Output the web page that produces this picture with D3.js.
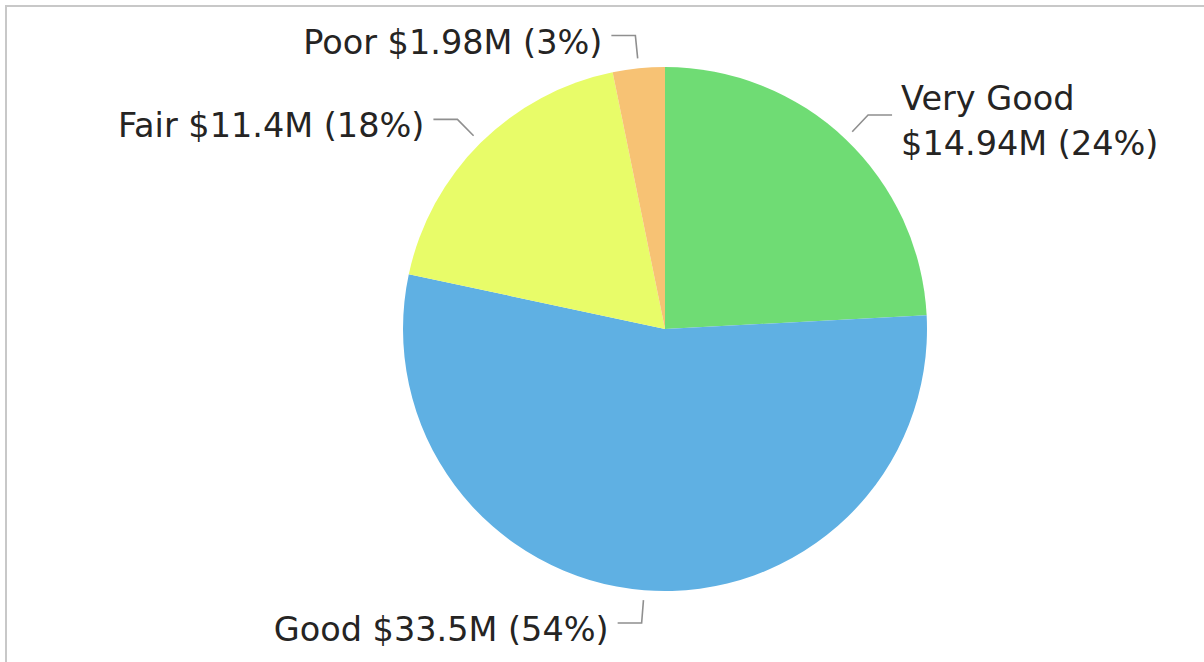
<!DOCTYPE html>
<html>
<head>
<meta charset="utf-8">
<script src="https://cdn.jsdelivr.net/npm/d3@7"></script>
<style>
  html, body { margin: 0; padding: 0; background: #ffffff; }
  svg { display: block; }
  text { font-family: "DejaVu Sans", Verdana, sans-serif; fill: #252423; }
</style>
</head>
<body>
<svg id="chart" width="1204" height="662"></svg>
<script>
// Condition categories and their totals (millions of dollars), in drawing order
const categories = ["Very Good", "Good", "Fair", "Poor"];
const valuesM = [14.94, 33.5, 11.4, 1.98];
const sliceColors = ["#6fdc74", "#5fb0e3", "#e8fc69", "#f7c274"];

const W = 1204, H = 662;
const svg = d3.select("#chart");

// Panel frame (top and left edges visible)
svg.append("rect")
  .attr("x", 6).attr("y", 6)
  .attr("width", W + 40).attr("height", H + 40)
  .attr("fill", "none")
  .attr("stroke", "#c8c8c8")
  .attr("stroke-width", 2);

const cx = 665, cy = 329, radius = 262;
const data = categories.map((c, i) => ({ name: c, value: valuesM[i], color: sliceColors[i] }));
const total = d3.sum(valuesM);

const pie = d3.pie().value(d => d.value).sort(null);
const arcs = pie(data);
const arc = d3.arc().innerRadius(0).outerRadius(radius);

const g = svg.append("g").attr("transform", `translate(${cx},${cy})`);

g.selectAll("path.slice")
  .data(arcs)
  .join("path")
  .attr("class", "slice")
  .attr("d", arc)
  .attr("fill", d => d.data.color);

// Label formatting
const fmtMoney = v => d3.format("$,.2~f")(v) + "M";
const fmtPct = d3.format(".0%");

const fontSize = 33.5;
const lineGap = 45;
const startR = radius + 10;   // leader starts just outside the rim
const elbowR = radius + 33;   // leader bends here
const horiz = 24;             // horizontal run of the leader
const pad = 9;                // gap between leader end and text

const labels = svg.append("g");

arcs.forEach(a => {
  const mid = (a.startAngle + a.endAngle) / 2;
  const sx = Math.sin(mid), sy = -Math.cos(mid);
  const p0 = [cx + startR * sx, cy + startR * sy];
  const p1 = [cx + elbowR * sx, cy + elbowR * sy];
  const right = sx >= 0;
  const p2 = [p1[0] + (right ? horiz : -horiz), p1[1]];

  labels.append("polyline")
    .attr("points", [p0, p1, p2].map(p => p.join(",")).join(" "))
    .attr("fill", "none")
    .attr("stroke", "#8f8f8f")
    .attr("stroke-width", 1.6);

  const full = `${a.data.name} ${fmtMoney(a.data.value)} (${fmtPct(a.data.value / total)})`;
  const tx = p2[0] + (right ? pad : -pad);

  // Measure the single-line label; wrap the category name if it runs past the edge
  const probe = labels.append("text")
    .attr("font-size", fontSize)
    .text(full);
  const w = probe.node().getComputedTextLength();
  probe.remove();

  let lines = [full];
  if (right && tx + w > W - 8) {
    lines = [a.data.name, `${fmtMoney(a.data.value)} (${fmtPct(a.data.value / total)})`];
  }

  const n = lines.length;
  let base = p1[1] + (n > 1 ? 17 : 18);
  base = Math.max(base, 54);

  const t = labels.append("text")
    .attr("font-size", fontSize)
    .attr("text-anchor", right ? "start" : "end");
  lines.forEach((ln, i) => {
    t.append("tspan")
      .attr("x", tx)
      .attr("y", base + (i - (n - 1) / 2) * lineGap)
      .text(ln);
  });
});
</script>
</body>
</html>
